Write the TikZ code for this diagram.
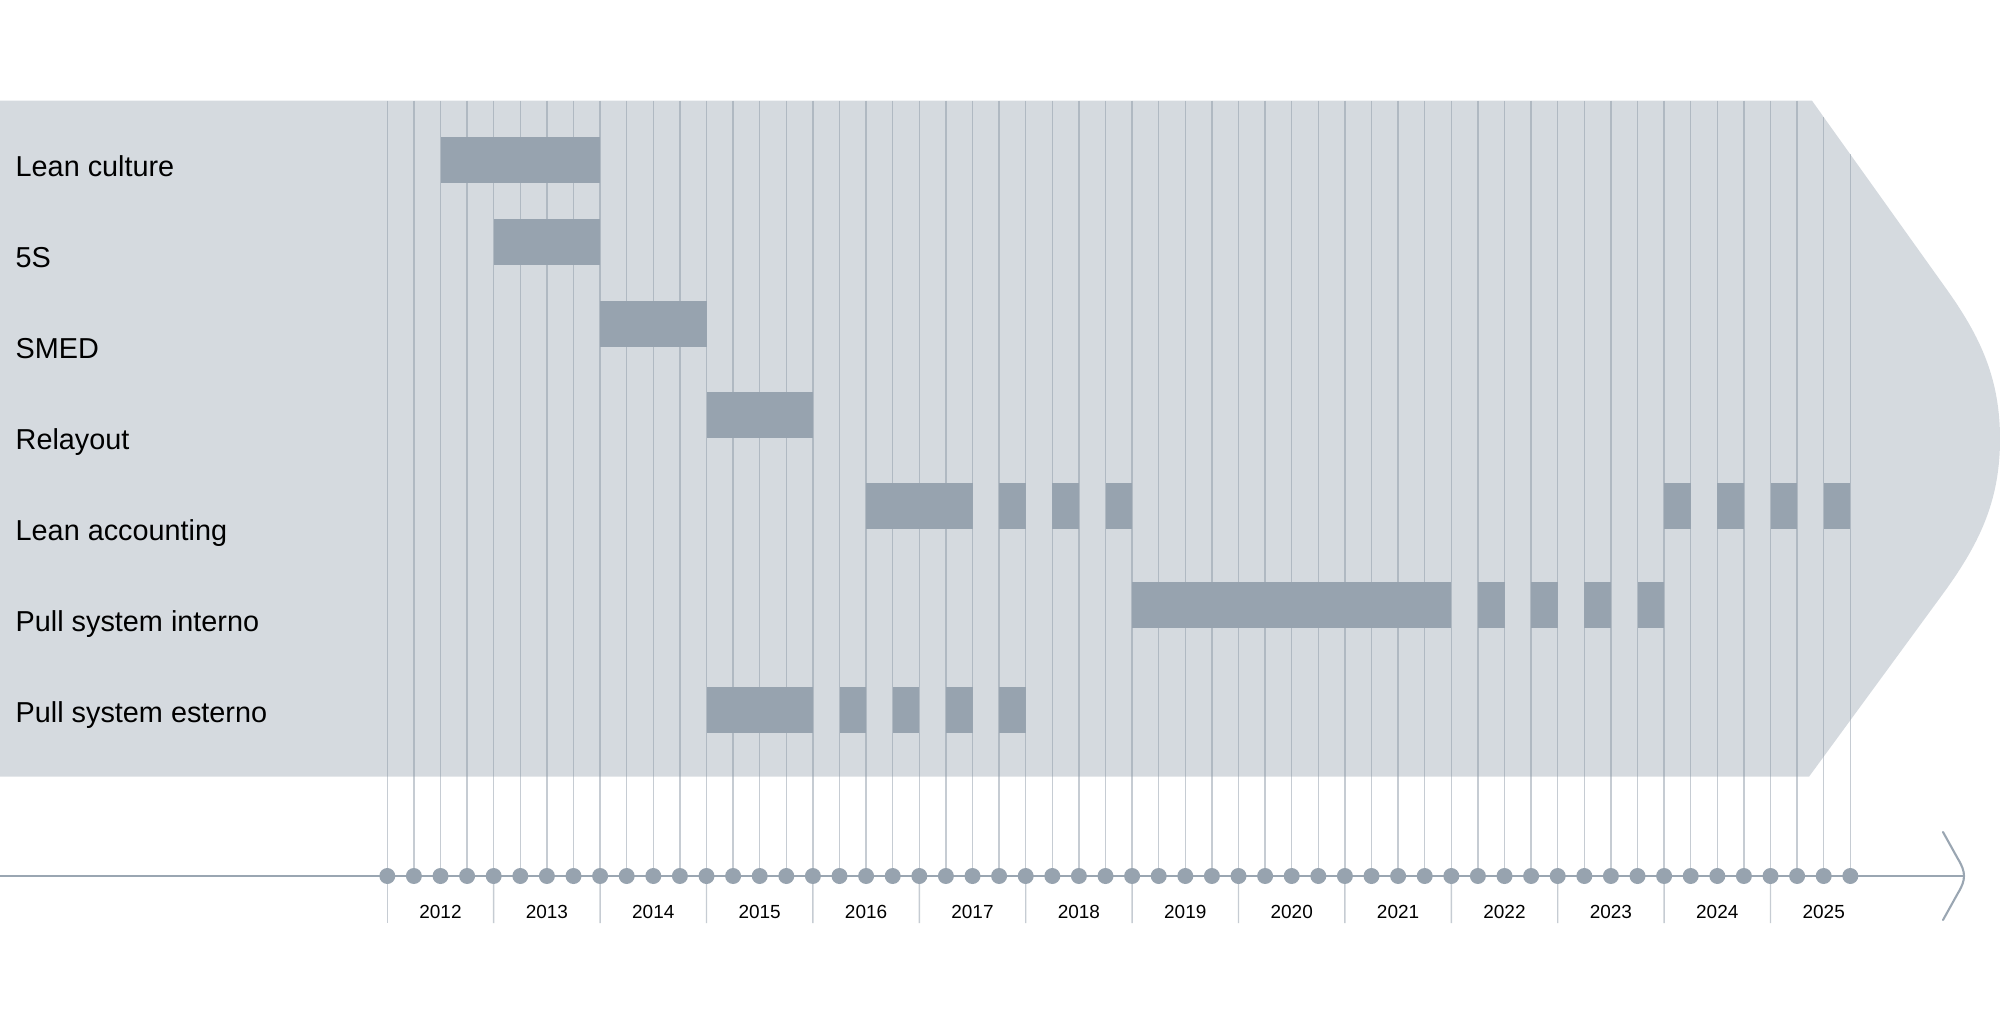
\documentclass[tikz,border=0pt]{standalone}
\usepackage{fontspec}
\setmainfont{Liberation Sans}
\definecolor{panel}{HTML}{D5DADF}
\definecolor{barc}{HTML}{97A3AF}
\definecolor{gridc}{HTML}{8D9AA7}
\definecolor{axisc}{HTML}{9AA6B2}
\newcommand{\TASK}[3]{\fill[barc] ({387.3+26.6*#2},#1) rectangle ({387.3+26.6*#3},{#1+46});}

\begin{document}
\begin{tikzpicture}[x=0.1mm,y=-0.1mm,
  label/.style={anchor=base west,inner sep=0pt,font=\fontsize{8.2}{10}\selectfont},
  year/.style={anchor=base,inner sep=0pt,font=\fontsize{5.4}{6}\selectfont},
  qdot/.style={circle,fill=barc,inner sep=0pt,minimum size=1.6mm},
  gridline/.style={draw=gridc,draw opacity=0.5,line width=0.4pt}]
   \useasboundingbox (0,0) rectangle (2000,1032);
   \fill[panel] (0,100.7) -- (1812,100.7) -- (1945,287) .. controls (1981,337) and (2000,379) .. (2000,439)
      .. controls (2000,499) and (1981,541) .. (1945,591) -- (1809,776.7) -- (0,776.7) -- cycle;
   \foreach \q in {0,...,55} {
      \pgfmathsetmacro\xq{387.3+26.6*\q}
      \pgfmathsetmacro\yq{100.7+1.4*max(0,\xq-1812)}
      \coordinate (t\q) at (\xq,\yq);
      \coordinate (a\q) at (\xq,876);
      \draw[gridline] (t\q) -- (a\q);
   }
   \foreach \y [count=\i from 0] in {2012,...,2025} {
      \pgfmathtruncatemacro\q{4*\i}
      \coordinate (b\q) at ({387.3+106.4*\i},923);
      \draw[gridline] (a\q) -- (b\q);
      \node[year] (y\y) at ({387.3+106.4*(\i+0.5)},918.3) {\y};
   }
   \TASK{136.7}{2}{8}
   \TASK{219}{4}{8}
   \TASK{301.3}{8}{12}
   \TASK{392.3}{12}{16}
   \foreach \s/\e in {18/22,23/24,25/26,27/28,48/49,50/51,52/53,54/55} {\TASK{483.3}{\s}{\e}}
   \foreach \s/\e in {28/40,41/42,43/44,45/46,47/48} {\TASK{582.3}{\s}{\e}}
   \foreach \s/\e in {12/16,17/18,19/20,21/22,23/24} {\TASK{686.7}{\s}{\e}}
   \coordinate (ax0) at (0,876);
   \coordinate (ax1) at (1965,876);
   \draw[axisc,line width=0.6pt] (ax0) -- (ax1);
   \draw[axisc,line width=0.6pt,line cap=round] (1943,832) -- (1958,859) .. controls (1966,872) and (1966,880) .. (1958,893) -- (1943,920);
   \foreach \q in {0,...,55} \node[qdot] (d\q) at (a\q) {};
   \node[label] (lc) at (15,176) {Lean culture};
   \node[label] (fs) at (15,267) {5S};
   \node[label] (smed) at (15,358.5) {SMED};
   \node[label] (rel) at (15,449.5) {Relayout};
   \node[label] (la) at (15,540.7) {Lean accounting};
   \node[label] (psi) at (15,631) {Pull system interno};
   \node[label] (pse) at (15,722.3) {Pull system esterno};
  \end{tikzpicture}
\end{document}
